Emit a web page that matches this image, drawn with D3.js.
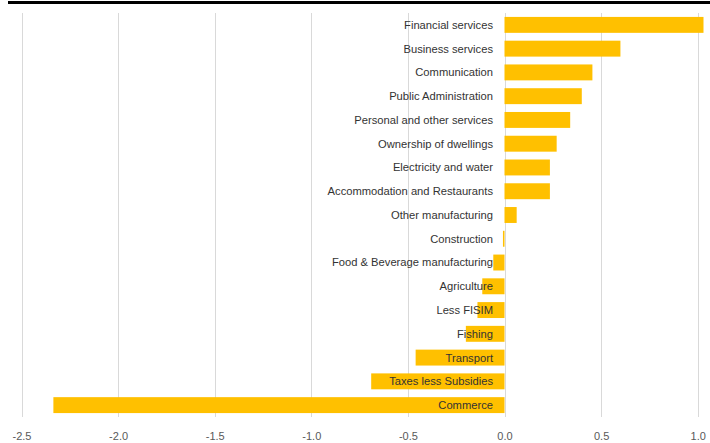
<!DOCTYPE html>
<html>
<head>
<meta charset="utf-8">
<script src="https://cdn.jsdelivr.net/npm/d3@7"></script>
<style>
  html, body { margin: 0; padding: 0; background: #fff; }
  svg { display: block; }
</style>
</head>
<body>
<svg id="chart" width="710" height="443"></svg>
<script>
// Contribution to growth by sector (percentage points)
const sectors = [
  "Financial services", "Business services", "Communication",
  "Public Administration", "Personal and other services",
  "Ownership of dwellings", "Electricity and water",
  "Accommodation and Restaurants", "Other manufacturing", "Construction",
  "Food & Beverage manufacturing", "Agriculture", "Less FISIM", "Fishing",
  "Transport", "Taxes less Subsidies", "Commerce"
];
const contributions = [
  1.03, 0.60, 0.455, 0.40, 0.34, 0.27, 0.235, 0.235, 0.063, -0.008,
  -0.058, -0.115, -0.14, -0.20, -0.46, -0.69, -2.335
];
const xTicks = [-2.5, -2.0, -1.5, -1.0, -0.5, 0.0, 0.5, 1.0];

const data = sectors.map((s, i) => ({ sector: s, value: contributions[i] }));

const svg = d3.select("#chart");
const W = 710, H = 443;
const plot = { left: 21.5, right: 697.7, top: 13, bottom: 417 };

const x = d3.scaleLinear().domain([-2.5, 1.0]).range([plot.left, plot.right]);
const y = d3.scaleBand().domain(sectors).range([plot.top, plot.bottom]).paddingInner(0.33).paddingOuter(0.165);

// heavy rule along the top edge
svg.append("line")
  .attr("x1", 8).attr("x2", W).attr("y1", 2.5).attr("y2", 2.5)
  .attr("stroke", "#000").attr("stroke-width", 3);

// vertical gridlines
svg.append("g")
  .selectAll("line")
  .data(xTicks)
  .join("line")
  .attr("x1", d => Math.round(x(d)) + 0.5)
  .attr("x2", d => Math.round(x(d)) + 0.5)
  .attr("y1", plot.top)
  .attr("y2", plot.bottom)
  .attr("stroke", "#d9d9d9")
  .attr("stroke-width", 1);

// bars
svg.append("g")
  .selectAll("rect")
  .data(data)
  .join("rect")
  .attr("x", d => x(Math.min(0, d.value)))
  .attr("width", d => Math.max(1, Math.abs(x(d.value) - x(0))))
  .attr("y", d => y(d.sector))
  .attr("height", y.bandwidth())
  .attr("fill", "#FFC000");

// category labels, right-aligned just left of the zero line
svg.append("g")
  .selectAll("text")
  .data(data)
  .join("text")
  .attr("x", x(0) - 11.5)
  .attr("y", d => y(d.sector) + y.bandwidth() / 2)
  .attr("dy", "0.35em")
  .attr("text-anchor", "end")
  .attr("font-family", "'Liberation Sans', Arial, sans-serif")
  .attr("font-size", "11.2px")
  .attr("fill", "#333333")
  .text(d => d.sector);

// x axis tick labels (plain hyphen for negatives)
const fmt = d => d3.format(".1f")(d).replace("\u2212", "-");
const xAxis = d3.axisBottom(x)
  .tickValues(xTicks)
  .tickSize(0)
  .tickPadding(0)
  .tickFormat(fmt);

const gx = svg.append("g")
  .attr("transform", `translate(0, ${plot.bottom})`)
  .call(xAxis);
gx.select(".domain").remove();
gx.selectAll("text")
  .attr("y", 19)
  .attr("dy", "0.35em")
  .attr("font-family", "'Liberation Sans', Arial, sans-serif")
  .attr("font-size", "11px")
  .attr("fill", "#595959");
</script>
</body>
</html>
